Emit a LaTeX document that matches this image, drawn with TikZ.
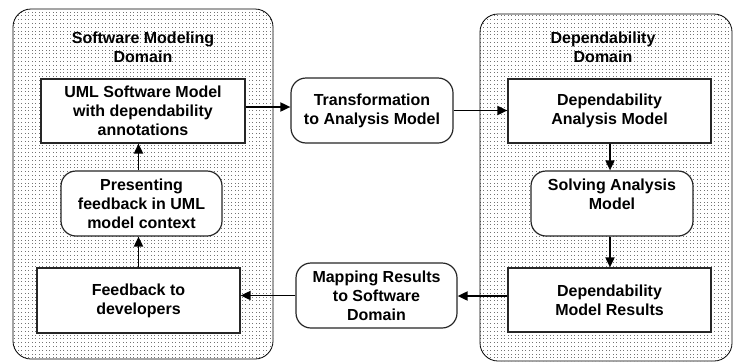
\documentclass[tikz,border=0pt]{standalone}
\usepackage{fontspec}
\setmainfont{Liberation Sans}
\usetikzlibrary{patterns,arrows.meta}
% small square dots for the domain backgrounds
\pgfdeclarepatternformonly{finedots}{\pgfpoint{-0.1pt}{-0.1pt}}{\pgfpoint{3.6pt}{3.9pt}}{\pgfpoint{3.5pt}{3.8pt}}{%
  \pgfpathrectangle{\pgfpointorigin}{\pgfpoint{0.85pt}{0.85pt}}\pgfusepath{fill}}
\begin{document}
\begin{tikzpicture}[x=1pt,y=-1pt,
  domainbox/.style={draw=black, line width=0.8pt, rounded corners=18pt,
    pattern=finedots, pattern color=black!55},
  box/.style={draw=black!85, line width=1.2pt, fill=white, align=center,
    font=\bfseries\fontsize{16}{19}\selectfont, inner sep=0pt},
  rbox/.style={box, rounded corners=15pt},
  domtitle/.style={align=center, font=\bfseries\fontsize{16}{19}\selectfont, inner sep=0pt},
  flow/.style={line width=1.8pt, -{Triangle[length=10pt,width=9pt]}}]
\useasboundingbox (0,0) rectangle (733,362);

% the two domains
\draw[domainbox] (13,9) rectangle (273,359);
\draw[domainbox] (480,14) rectangle (732,361);
\node[domtitle] (swtitle) at (143,47.5) {Software Modeling\\Domain};
\node[domtitle] (deptitle) at (603,47.5) {Dependability\\Domain};

% software modeling side
\node[box, minimum width=204pt, minimum height=64pt] (uml) at (143,111)
  {UML Software Model\\with dependability\\annotations};
\node[rbox, minimum width=161pt, minimum height=65pt] (present) at (141.5,203.5)
  {Presenting\\feedback in UML\\model context};
\node[box, minimum width=203pt, minimum height=65pt] (feedback) at (138.5,300.5)
  {Feedback to\\developers};

% transformations between domains
\node[rbox, minimum width=162pt, minimum height=65pt] (trans) at (372,110.5)
  {Transformation\\to Analysis Model};
\node[rbox, minimum width=161pt, minimum height=65pt] (mapping) at (376.5,295.5)
  {Mapping Results\\to Software\\Domain};

% dependability side
\node[box, minimum width=203pt, minimum height=64pt] (depmodel) at (609.5,111)
  {Dependability\\Analysis Model};
\node[rbox, minimum width=162pt, minimum height=65pt] (solve) at (612,203.5)
  {Solving Analysis\\Model\\~};
\node[box, minimum width=203pt, minimum height=64pt] (results) at (609.5,300)
  {Dependability\\Model Results};

% flow of the process
\coordinate (upx) at (138.5,0);
\draw[flow] (feedback.north -| upx) -- (present.south -| upx);
\draw[flow] (present.north -| upx) -- (uml.south -| upx);
\draw[flow] ([yshift=4pt]uml.east) -- ([yshift=4pt]uml.east -| trans.west);
\draw[flow] (trans.east) -- (trans.east -| depmodel.west);
\coordinate (downx) at (610,0);
\draw[flow] (depmodel.south -| downx) -- (solve.north -| downx);
\draw[flow] (solve.south -| downx) -- (results.north -| downx);
\draw[flow] ([yshift=4pt]results.west) -- ([yshift=4pt]results.west -| mapping.east);
\draw[flow] (mapping.west) -- (mapping.west -| feedback.east);
\end{tikzpicture}
\end{document}
